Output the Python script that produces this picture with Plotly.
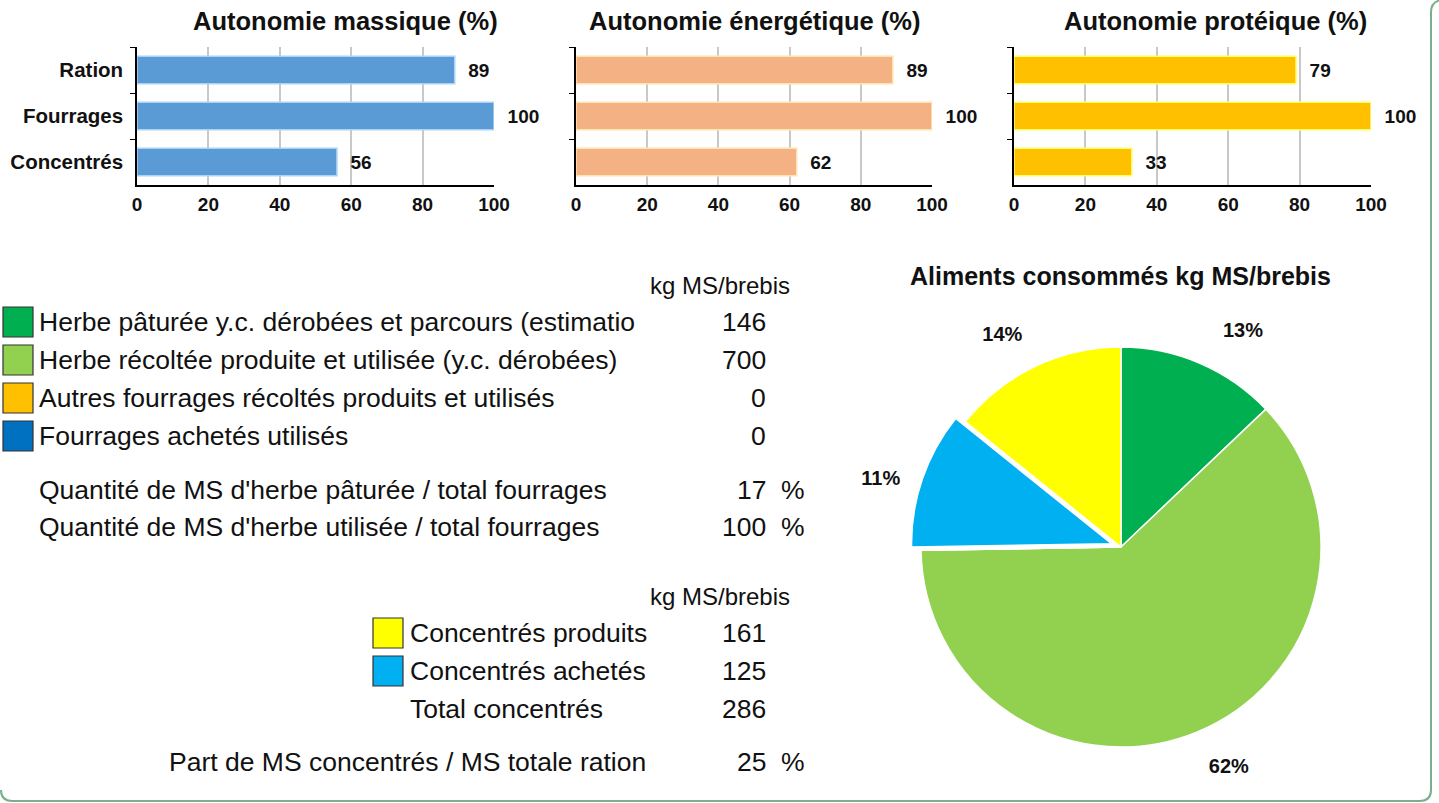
import plotly.graph_objects as go

W, H = 1439, 803

# ---------------- data ----------------
autonomy_categories = ["Ration", "Fourrages", "Concentrés"]
autonomy_titles = ["Autonomie massique (%)", "Autonomie énergétique (%)", "Autonomie protéique (%)"]
autonomie_massique = [89, 100, 56]
autonomie_energetique = [89, 100, 62]
autonomie_proteique = [79, 100, 33]
x_ticks = [0, 20, 40, 60, 80, 100]

forage_labels = ["Herbe pâturée y.c. dérobées et parcours (estimatio",
                 "Herbe récoltée produite et utilisée (y.c. dérobées)",
                 "Autres fourrages récoltés produits et utilisés",
                 "Fourrages achetés utilisés"]
forage_values = [146, 700, 0, 0]

ratio_labels = ["Quantité de MS d'herbe pâturée / total fourrages",
                "Quantité de MS d'herbe utilisée / total fourrages"]
ratio_values = [17, 100]

concentre_labels = ["Concentrés produits", "Concentrés achetés"]
concentre_values = [161, 125]
total_label = "Total concentrés"
total_value = 286
part_label = "Part de MS concentrés / MS totale ration"
part_value = 25
unit_label = "kg MS/brebis"

pie_title = "Aliments consommés kg MS/brebis"
pie_labels = ["Herbe pâturée", "Herbe récoltée", "Autres fourrages", "Fourrages achetés",
              "Concentrés achetés", "Concentrés produits"]
pie_values = [146, 700, 0, 0, 125, 161]

# ---------------- styling ----------------
bar_colors = ["#5B9BD5", "#F4B183", "#FFC000"]
bar_edges = ["#A9D3F5", "#FFE3B0", "#FFFF66"]
forage_colors = ["#00B050", "#92D050", "#FFC000", "#0070C0"]
concentre_colors = ["#FFFF00", "#00B0F0"]
pie_colors = ["#00B050", "#92D050", "#FFC000", "#0070C0", "#00B0F0", "#FFFF00"]
# label padding so the outside percentages sit a little away from the pie, as in the original
pie_templates = ["\u00a0\u00a0<b>%{percent:.0%}</b><br> ", " <br><b>%{percent:.0%}</b>", "", "",
                 "<b>%{percent:.0%}</b>\u00a0\u00a0\u00a0", "<b>%{percent:.0%}</b><br> "]

FONT = "Liberation Sans, Arial, sans-serif"


def X(px):
    return px / W


def Y(py):
    return 1 - py / H


fig = go.Figure()

x_domains = [(137, 494), (576, 932), (1014, 1371)]
plot_top, plot_bottom = 47, 185
series = [autonomie_massique, autonomie_energetique, autonomie_proteique]

for i, vals in enumerate(series):
    ax = "" if i == 0 else str(i + 1)
    fig.add_trace(go.Bar(
        x=vals, y=autonomy_categories, orientation="h",
        xaxis="x" + ax, yaxis="y" + ax,
        marker=dict(color=bar_colors[i], line=dict(color=bar_edges[i], width=1.5)),
        width=0.6,
        text=vals, texttemplate="\u00a0\u00a0%{x}", textposition="outside",
        textfont=dict(family=FONT, size=19, color="#111", weight="bold"),
        cliponaxis=False, showlegend=False, hoverinfo="x+y",
    ))
    x0, x1 = x_domains[i]
    fig.update_layout(**{
        "xaxis" + ax: dict(
            domain=[X(x0), X(x1)], anchor="y" + ax, range=[0, 100],
            tickvals=x_ticks, showgrid=True, gridcolor="#C8C8C8", gridwidth=2,
            showline=True, linecolor="black", linewidth=1.5,
            ticks="outside", ticklen=1, tickcolor="rgba(0,0,0,0)",
            tickfont=dict(family=FONT, size=19, color="#111", weight="bold"),
            zeroline=False, fixedrange=True, automargin=False,
        ),
        "yaxis" + ax: dict(
            domain=[Y(plot_bottom), Y(plot_top)], anchor="x" + ax,
            categoryorder="array", categoryarray=autonomy_categories,
            autorange="reversed", showgrid=False,
            showline=True, linecolor="black", linewidth=1.5,
            ticks="outside", ticklen=5, tickcolor="black", tickson="boundaries",
            showticklabels=(i == 0),
            tickfont=dict(family=FONT, size=20.5, color="#111", weight="bold"),
            ticklabelstandoff=8, fixedrange=True, automargin=False,
        ),
    })

# titles of the bar charts
title_centers = [345, 755, 1215]
for t, cx in zip(autonomy_titles, title_centers):
    fig.add_annotation(x=X(cx), y=Y(21), xref="paper", yref="paper", text="<b>%s</b>" % t,
                       showarrow=False, xanchor="center", yanchor="middle",
                       font=dict(family=FONT, size=25.5, color="#111"))

# ---------------- pie ----------------
cx, cy, r = 1121, 547, 210
fig.add_trace(go.Pie(
    values=pie_values, labels=pie_labels, sort=False, direction="clockwise", rotation=0,
    marker=dict(colors=pie_colors, line=dict(color="white", width=1.5)),
    pull=[0, 0, 0, 0, 0.05, 0],
    texttemplate=pie_templates,
    textposition=["outside" if v > 0 else "none" for v in pie_values],
    textfont=dict(family=FONT, size=20, color="#111"),
    domain=dict(x=[X(cx - r), X(cx + r)], y=[Y(cy + r), Y(cy - r)]),
    showlegend=False, hoverinfo="label+value+percent", automargin=False,
))
fig.add_annotation(x=X(1120), y=Y(276), xref="paper", yref="paper", text="<b>%s</b>" % pie_title,
                   showarrow=False, xanchor="center", yanchor="middle",
                   font=dict(family=FONT, size=25, color="#111"))

# ---------------- table text ----------------
TXT = dict(family=FONT, size=26.5, color="#111")
UNIT = dict(family=FONT, size=24, color="#111")
shapes = []


def text(px, py, s, anchor="left", font=TXT):
    fig.add_annotation(x=X(px), y=Y(py), xref="paper", yref="paper", text=s, showarrow=False,
                       xanchor=anchor, yanchor="middle", font=font, borderpad=0)


def square(x0, y0, color):
    shapes.append(dict(type="rect", xref="paper", yref="paper", x0=X(x0), x1=X(x0 + 30),
                       y0=Y(y0 + 30), y1=Y(y0), fillcolor=color,
                       line=dict(color="#333333", width=1.2)))


text(791, 285, unit_label, "right", UNIT)
row_y = [322, 360, 398, 436]
for lab, val, col, yy in zip(forage_labels, forage_values, forage_colors, row_y):
    square(3, yy - 15, col)
    text(38, yy, lab)
    text(767, yy, str(val), "right")

for lab, val, yy in zip(ratio_labels, ratio_values, [490, 527]):
    text(38, yy, lab)
    text(767, yy, str(val), "right")
    text(793, yy, "%", "center")

text(791, 596, unit_label, "right", UNIT)
for lab, val, col, yy in zip(concentre_labels, concentre_values, concentre_colors, [633, 671]):
    square(373, yy - 15, col)
    text(409, yy, lab)
    text(767, yy, str(val), "right")
text(409, 709, total_label)
text(767, 709, str(total_value), "right")
text(168, 762, part_label)
text(767, 762, str(part_value), "right")
text(793, 762, "%", "center")

# border of the panel
border = "M %f,%f L %f,%f Q %f,%f %f,%f L %f,%f Q %f,%f %f,%f" % (
    X(1431), Y(12), X(1431), Y(790), X(1431), Y(801), X(1420), Y(801),
    X(12), Y(801), X(1), Y(801), X(1), Y(790))
shapes.append(dict(type="path", xref="paper", yref="paper", path=border,
                   line=dict(color="#7AAE8C", width=2)))
top_curve = "M %f,%f Q %f,%f %f,%f" % (X(1431), Y(12), X(1431), Y(2), X(1441), Y(0))
shapes.append(dict(type="path", xref="paper", yref="paper", path=top_curve,
                   line=dict(color="#7AAE8C", width=2)))

fig.update_layout(
    width=W, height=H, margin=dict(l=0, r=0, t=0, b=0, pad=0, autoexpand=False),
    paper_bgcolor="white", plot_bgcolor="white",
    shapes=shapes, bargap=0.4,
    font=dict(family=FONT),
)

fig.write_html("out.html", config={"displayModeBar": False},
               post_script="document.body.style.margin='0';document.body.style.overflow='hidden';")
